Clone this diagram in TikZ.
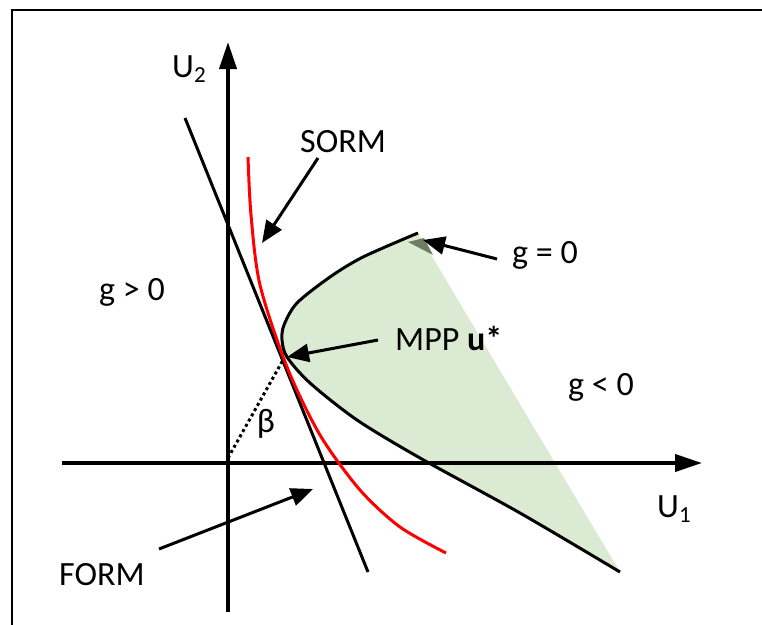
\documentclass[tikz,border=0pt]{standalone}
\usepackage{fontspec}
\setmainfont{Carlito}
\usetikzlibrary{arrows.meta}
\definecolor{regiongreen}{RGB}{218,234,211}
\definecolor{darkgreen}{RGB}{110,126,98}
\definecolor{sormred}{RGB}{255,0,0}
\begin{document}
\begin{tikzpicture}[x=1pt,y=-1pt,
  lbl/.style={inner sep=0pt,font=\fontsize{34}{40}\selectfont},
  axisline/.style={line width=4pt,-{Triangle[length=27pt,width=17pt]}},
  pointer/.style={line width=3pt,-{Triangle[length=22pt,width=18pt]}},
  curveline/.style={line width=3pt},
]
\useasboundingbox (0,0) rectangle (762,624);
\fill[white] (0,0) rectangle (762,624);
% frame (only top and left visible)
\draw[line width=2.5pt] (12,626) -- (12,10) -- (764,10);

% green failure region
\fill[regiongreen] plot[smooth] coordinates {(418,233) (363,257) (330,277) (297,303) (284,325) (282,340) (287,357) (310,383) (357,420) (420,458) (520,513) (620,572)} -- cycle;
\fill[darkgreen] (408,242) -- (424,238) -- (433,255) -- cycle;

% axes
\coordinate (x0) at (62,463);
\coordinate (x1) at (702,463);
\coordinate (y0) at (228,612);
\coordinate (y1) at (228,42);
\coordinate (origin) at (228,458);
\draw[axisline] (x0) -- (x1);
\draw[axisline] (y0) -- (y1);

% FORM tangent line
\coordinate (f0) at (185,118);
\coordinate (f1) at (368,572);
\draw[curveline] (f0) -- (f1);

% SORM red curve
\draw[curveline,sormred] plot[smooth] coordinates {(248,157) (251,215) (260,285) (287,367) (320,435) (360,490) (400,527) (446,553)};

% limit state g = 0
\draw[curveline] plot[smooth] coordinates {(418,233) (363,257) (330,277) (297,303) (284,325) (282,340) (287,357) (310,383) (357,420) (420,458) (520,513) (620,572)};

% beta (dotted)
\coordinate (mpp) at (283,360);
\draw[line width=3pt,dash pattern=on 3pt off 3pt] (origin) -- (mpp);

% labels
\node[lbl,anchor=base west] (u2) at (172,77) {U\raisebox{-5pt}{\fontsize{23}{23}\selectfont 2}};
\node[lbl,anchor=base west] (u1) at (657,517) {U\raisebox{-5pt}{\fontsize{23}{23}\selectfont 1}};
\node[lbl,anchor=base west] (sorm) at (300,152) {SORM};
\node[lbl,anchor=base west] (gzero) at (512,263) {g = 0};
\node[lbl,anchor=base west] (gpos) at (99,300) {g > 0};
\node[lbl,anchor=base west] (mpplbl) at (395,350) {MPP \textbf{u*}};
\node[lbl,anchor=base west] (gneg) at (568,395) {g < 0};
\node[lbl,anchor=base west] (form) at (59,585) {FORM};
\node[lbl] (beta) at (266,424) {β};

% pointers
\coordinate (sormS) at (318,158);
\coordinate (sormT) at (262,243);
\coordinate (gS) at (497,259);
\coordinate (gT) at (423,240);
\coordinate (mS) at (378,340);
\coordinate (mT) at (287,357);
\coordinate (fS) at (159,549);
\coordinate (fT) at (313,489);
\draw[pointer] (sormS) -- (sormT);
\draw[pointer] (gS) -- (gT);
\draw[pointer] (mS) -- (mT);
\draw[pointer] (fS) -- (fT);
\end{tikzpicture}
\end{document}
